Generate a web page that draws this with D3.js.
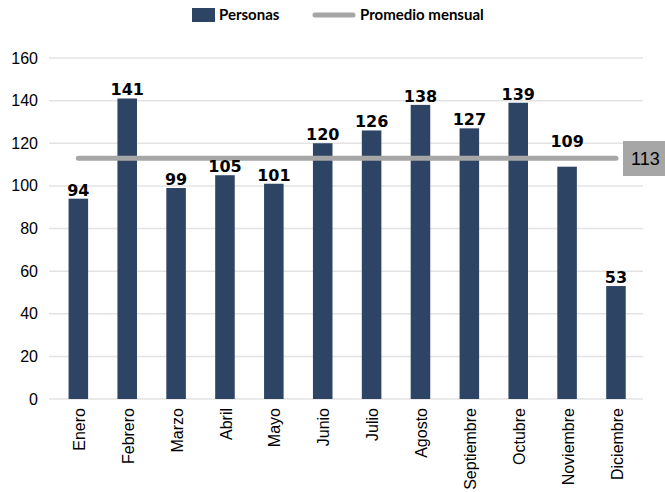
<!DOCTYPE html>
<html>
<head>
<meta charset="utf-8">
<script src="https://cdn.jsdelivr.net/npm/d3@7"></script>
<style>
  body { margin: 0; background: #fff; }
  svg { display: block; }
</style>
</head>
<body>
<svg id="chart" width="665" height="492"></svg>
<script>
// Personas por mes + promedio mensual

const months = ['Enero', 'Febrero', 'Marzo', 'Abril', 'Mayo', 'Junio', 'Julio',
    'Agosto', 'Septiembre', 'Octubre', 'Noviembre', 'Diciembre'];
const personas = [94, 141, 99, 105, 101, 120, 126, 138, 127, 139, 109, 53];
const promedio = 113;
const yTicks = [0, 20, 40, 60, 80, 100, 120, 140, 160];

const barColor = '#2e4465';
const avgColor = '#a6a6a6';
const gridColor = '#e3e3e3';
const font = '"Liberation Sans", Arial, sans-serif';

const svg = d3.select('#chart');
const gridLeft = 49, gridRight = 643;

const x = d3.scaleBand()
    .domain(months)
    .range([53.9, 640.4])
    .paddingInner(0.6)
    .paddingOuter(0.3);

const y = d3.scaleLinear()
    .domain([0, 160])
    .range([399, 58]);

// Gridlines
svg.append('g')
    .selectAll('line')
    .data(yTicks)
    .enter()
    .append('line')
    .attr('x1', gridLeft)
    .attr('x2', gridRight)
    .attr('y1', d => y(d))
    .attr('y2', d => y(d))
    .attr('stroke', gridColor)
    .attr('stroke-width', 1.5);

// Y axis labels
svg.append('g')
    .selectAll('text')
    .data(yTicks)
    .enter()
    .append('text')
    .attr('x', 38)
    .attr('y', d => y(d))
    .attr('dy', '0.35em')
    .attr('text-anchor', 'end')
    .attr('font-family', font)
    .attr('font-size', '16px')
    .attr('fill', '#000')
    .text(d => d);

// Bars
svg.append('g')
    .selectAll('rect')
    .data(personas)
    .enter()
    .append('rect')
    .attr('x', (d, i) => x(months[i]))
    .attr('y', d => y(d))
    .attr('width', x.bandwidth())
    .attr('height', d => y(0) - y(d))
    .attr('fill', barColor);

// Average line
const xStart = x(months[0]) + x.bandwidth() / 2;
const xEnd = x(months[months.length - 1]) + x.bandwidth() / 2;
svg.append('line')
    .attr('x1', xStart)
    .attr('x2', xEnd)
    .attr('y1', y(promedio))
    .attr('y2', y(promedio))
    .attr('stroke', avgColor)
    .attr('stroke-width', 5)
    .attr('stroke-linecap', 'round');

// Value labels (moved above the average line when the line would cut through them)
svg.append('g')
    .selectAll('text')
    .data(personas)
    .enter()
    .append('text')
    .attr('x', (d, i) => x(months[i]) + x.bandwidth() / 2)
    .attr('y', d => {
        let base = y(d) - 3;
        const lineY = y(promedio);
        if (base > lineY && base - 11 < lineY) base = lineY - 11;
        return base;
    })
    .attr('text-anchor', 'middle')
    .attr('font-family', '"DejaVu Sans", sans-serif')
    .attr('font-weight', 'bold')
    .attr('font-size', '16px')
    .attr('fill', '#000')
    .text(d => d);

// Month labels (rotated)
svg.append('g')
    .selectAll('text')
    .data(months)
    .enter()
    .append('text')
    .attr('transform', d => `translate(${x(d) + x.bandwidth() / 2 + 1}, 408) rotate(-90)`)
    .attr('dy', '0.35em')
    .attr('text-anchor', 'end')
    .attr('font-family', font)
    .attr('font-size', '16px')
    .attr('fill', '#000')
    .text(d => d);

// Average label box
svg.append('rect')
    .attr('x', 623)
    .attr('y', 141)
    .attr('width', 50)
    .attr('height', 35)
    .attr('fill', avgColor);
svg.append('text')
    .attr('x', 631)
    .attr('y', y(promedio) + 1)
    .attr('dy', '0.35em')
    .attr('font-family', font)
    .attr('font-size', '18px')
    .attr('fill', '#000')
    .text(promedio);

// Legend
const legend = svg.append('g').attr('font-family', 'Lato, "Open Sans", sans-serif')
    .attr('font-size', '15px').attr('font-weight', 'bold');
legend.append('rect')
    .attr('x', 192).attr('y', 8).attr('width', 23).attr('height', 14)
    .attr('fill', barColor);
legend.append('text')
    .attr('x', 219).attr('y', 15).attr('dy', '0.35em')
    .text('Personas');
legend.append('line')
    .attr('x1', 315).attr('x2', 353).attr('y1', 15).attr('y2', 15)
    .attr('stroke', avgColor).attr('stroke-width', 5).attr('stroke-linecap', 'round');
legend.append('text')
    .attr('x', 360).attr('y', 15).attr('dy', '0.35em')
    .text('Promedio mensual');
</script>
</body>
</html>
